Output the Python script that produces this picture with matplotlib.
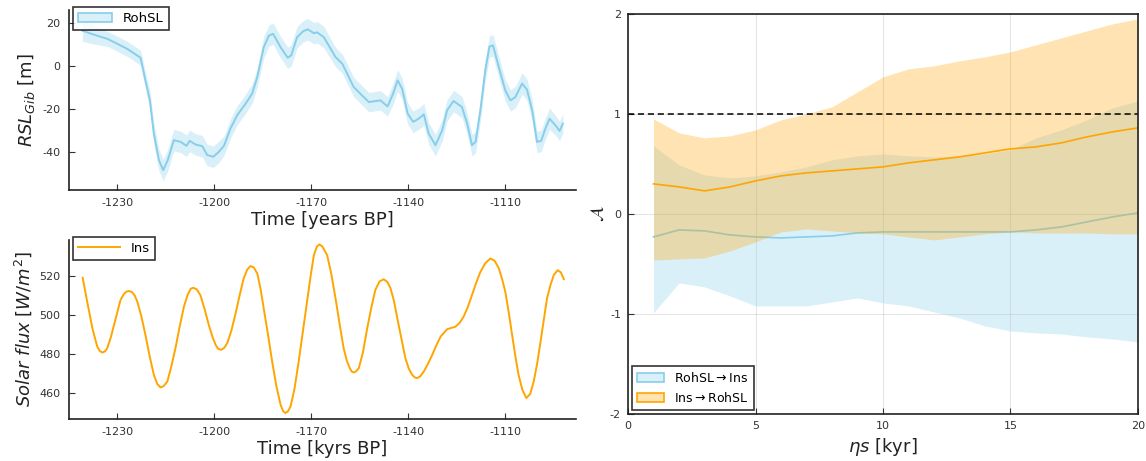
import numpy as np
import matplotlib
matplotlib.use("Agg")
import matplotlib.pyplot as plt
from matplotlib.patches import Patch
from matplotlib.lines import Line2D

plt.rcParams["axes.unicode_minus"] = False
plt.rcParams["font.family"] = ["DejaVu Sans"]

# relative sea level at Gibraltar (years BP, metres, half-width of band)
rsl_time = [-1240.8, -1238.0, -1235.5, -1233.1, -1230.0, -1226.9, -1222.8, -1221.3,
            -1219.9, -1218.7, -1217.1, -1215.8, -1214.4, -1212.5, -1210.4, -1208.6,
            -1207.6, -1205.8, -1203.7, -1202.2, -1200.3, -1198.6, -1197.0, -1195.0,
            -1192.9, -1190.3, -1188.3, -1186.7, -1184.7, -1183.1, -1181.8, -1179.5,
            -1177.3, -1176.2, -1174.4, -1172.5, -1171.1, -1169.2, -1168.2, -1166.1,
            -1162.5, -1160.4, -1156.9, -1154.3, -1152.2, -1148.6, -1146.4, -1144.7,
            -1143.3, -1141.9, -1140.2, -1138.5, -1136.8, -1135.2, -1133.7, -1131.6,
            -1129.5, -1128.0, -1126.0, -1123.4, -1121.8, -1120.3, -1119.2, -1117.7,
            -1116.2, -1114.9, -1113.8, -1112.0, -1110.0, -1108.4, -1106.9, -1104.8,
            -1103.3, -1101.7, -1100.2, -1098.9, -1097.6, -1096.3, -1094.5, -1093.2,
            -1092.2]
rsl_mean = [16.5, 15.0, 13.8, 12.7, 10.4, 8.0, 3.9, -6.6,
            -15.9, -31.3, -43.7, -48.3, -43.7, -34.4, -35.2, -37.0,
            -34.7, -36.4, -37.2, -41.3, -42.1, -39.8, -37.0, -29.0,
            -22.8, -17.4, -12.8, -5.1, 8.8, 14.2, 15.0, 8.8,
            3.9, 5.0, 13.4, 16.2, 17.1, 15.3, 15.7, 13.4,
            4.2, 1.1, -9.7, -13.6, -16.7, -15.9, -18.7, -12.8,
            -6.6, -10.5, -22.0, -25.9, -24.4, -22.4, -31.3, -36.7,
            -29.8, -20.5, -16.2, -19.0, -26.7, -36.7, -35.2, -20.5,
            -2.0, 9.1, 9.6, -0.5, -11.3, -15.9, -14.4, -8.1,
            -10.9, -20.5, -35.2, -34.7, -29.0, -24.4, -27.5, -30.1,
            -26.7]
rsl_err = [5.0, 4.5, 4.0, 3.5, 3.5, 3.5, 3.5, 4.0,
           4.5, 5.0, 5.0, 5.0, 5.0, 5.0, 5.0, 5.0,
           5.0, 5.0, 5.0, 5.0, 5.0, 5.0, 4.5, 4.5,
           4.5, 4.5, 4.5, 4.5, 5.0, 5.0, 5.0, 5.0,
           5.0, 5.0, 5.0, 5.0, 5.0, 5.0, 5.0, 5.0,
           4.5, 4.5, 4.5, 4.5, 4.5, 4.5, 4.5, 5.0,
           5.0, 5.0, 5.0, 5.0, 5.0, 5.0, 5.0, 5.0,
           5.0, 5.0, 5.0, 5.0, 5.0, 5.0, 5.0, 5.0,
           5.0, 5.0, 5.0, 5.0, 5.0, 5.0, 5.0, 5.0,
           5.0, 5.0, 5.0, 5.0, 5.0, 5.0, 4.5, 4.5,
           4.5]

# insolation (years BP, W/m^2)
ins_time = [-1240.7, -1239.3, -1237.7, -1236.2, -1235.4, -1234.6, -1233.8, -1233.1,
            -1232.0, -1231.0, -1229.0, -1228.0, -1227.2, -1226.4, -1225.5, -1224.6,
            -1223.8, -1222.5, -1221.3, -1220.0, -1218.7, -1217.6, -1216.6, -1215.6,
            -1214.5, -1213.3, -1212.0, -1210.7, -1209.4, -1208.2, -1207.3, -1206.5,
            -1205.4, -1204.3, -1203.0, -1201.7, -1200.6, -1199.6, -1198.8, -1197.9,
            -1197.0, -1196.0, -1194.7, -1193.4, -1192.1, -1190.9, -1189.8, -1188.8,
            -1187.8, -1186.7, -1185.7, -1184.7, -1183.4, -1182.1, -1180.8, -1179.5,
            -1178.7, -1178.0, -1177.2, -1176.4, -1175.2, -1173.9, -1172.6, -1171.3,
            -1170.2, -1169.2, -1168.3, -1167.5, -1166.6, -1165.1, -1163.8, -1162.5,
            -1161.2, -1160.0, -1159.0, -1158.1, -1157.5, -1156.9, -1156.2, -1155.3,
            -1154.0, -1152.7, -1151.4, -1150.2, -1148.9, -1147.6, -1146.5, -1145.5,
            -1144.4, -1143.4, -1142.1, -1140.9, -1139.8, -1138.8, -1138.0, -1137.3,
            -1136.3, -1135.2, -1133.9, -1132.6, -1131.3, -1130.0, -1128.0, -1125.4,
            -1124.1, -1122.9, -1121.6, -1120.3, -1119.0, -1117.7, -1116.2, -1114.6,
            -1113.3, -1112.0, -1111.0, -1110.0, -1108.9, -1107.9, -1106.9, -1105.9,
            -1104.7, -1103.5, -1102.3, -1101.2, -1100.1, -1099.1, -1098.1, -1097.1,
            -1096.0, -1095.0, -1093.8, -1092.8, -1091.9]
ins_flux = [519.1, 506.8, 493.2, 483.8, 481.5, 480.7, 481.3, 483.0,
            488.5, 494.9, 507.7, 510.6, 511.9, 512.3, 511.8, 510.0,
            506.8, 499.0, 489.8, 479.0, 469.3, 464.5, 462.8, 463.6,
            465.9, 473.5, 483.0, 494.0, 504.2, 510.5, 513.4, 514.0,
            513.1, 510.2, 503.0, 494.9, 489.0, 484.7, 482.6, 482.1,
            483.0, 485.5, 492.0, 500.9, 510.5, 518.8, 523.3, 525.1,
            524.4, 521.3, 513.5, 503.4, 490.0, 476.1, 463.5, 454.0,
            450.6, 449.7, 450.6, 453.1, 462.0, 476.1, 491.5, 506.8,
            520.0, 530.7, 535.0, 536.2, 535.2, 530.7, 521.0, 508.5,
            495.0, 483.0, 476.5, 472.7, 471.0, 470.5, 471.0, 472.7,
            481.0, 493.2, 504.0, 512.8, 517.2, 518.3, 517.0, 513.7,
            507.0, 498.3, 487.5, 477.8, 472.3, 469.3, 468.0, 467.6,
            468.5, 471.0, 475.0, 479.5, 484.5, 488.9, 492.7, 494.0,
            496.0, 499.1, 504.0, 510.2, 516.5, 522.1, 526.5, 529.0,
            527.8, 523.9, 518.5, 511.9, 501.0, 489.8, 479.0, 469.3,
            461.5, 457.4, 459.5, 465.9, 475.5, 486.3, 497.5, 508.5,
            515.5, 520.5, 523.0, 521.8, 518.3]

# coupling strength vs. window length
eta = [1, 2, 3, 4, 5, 6, 7, 8, 9, 10, 11, 12, 13, 14, 15, 16, 17, 18, 19, 20]
rsl_ins_mean = [-0.23, -0.16, -0.17, -0.21, -0.23, -0.24, -0.23, -0.22, -0.19, -0.18,
                -0.18, -0.18, -0.18, -0.18, -0.18, -0.16, -0.13, -0.08, -0.03, 0.01]
rsl_ins_hi = [0.68, 0.49, 0.39, 0.36, 0.38, 0.42, 0.47, 0.54, 0.58, 0.60,
              0.58, 0.57, 0.58, 0.60, 0.64, 0.76, 0.84, 0.94, 1.06, 1.13]
rsl_ins_lo = [-0.99, -0.69, -0.73, -0.82, -0.92, -0.92, -0.92, -0.88, -0.84, -0.89,
              -0.92, -0.98, -1.04, -1.12, -1.17, -1.19, -1.20, -1.23, -1.25, -1.28]
ins_rsl_mean = [0.30, 0.27, 0.23, 0.27, 0.33, 0.38, 0.41, 0.43, 0.45, 0.47,
                0.51, 0.54, 0.57, 0.61, 0.65, 0.67, 0.71, 0.77, 0.82, 0.86]
ins_rsl_hi = [0.95, 0.81, 0.76, 0.78, 0.84, 0.94, 1.00, 1.07, 1.22, 1.37,
              1.45, 1.48, 1.53, 1.57, 1.62, 1.69, 1.76, 1.83, 1.90, 1.95]
ins_rsl_lo = [-0.46, -0.45, -0.44, -0.37, -0.28, -0.18, -0.15, -0.17, -0.19, -0.20,
              -0.23, -0.26, -0.23, -0.20, -0.18, -0.19, -0.19, -0.19, -0.20, -0.20]

blue = "#87CEEB"
orange = "#FFA500"
tick_col = "#333333"

fig = plt.figure(figsize=(11.46, 4.61), dpi=100)
ax1 = fig.add_axes([0.060, 0.588, 0.443, 0.390])
ax2 = fig.add_axes([0.060, 0.091, 0.443, 0.389])
ax3 = fig.add_axes([0.548, 0.102, 0.445, 0.868])

for ax in (ax1, ax2):
    ax.spines["top"].set_visible(False)
    ax.spines["right"].set_visible(False)
    for s in ("left", "bottom"):
        ax.spines[s].set_linewidth(1.2)
        ax.spines[s].set_color("#222222")
    ax.tick_params(direction="in", length=4, labelsize=8, colors=tick_col, pad=6)
    ax.set_xlim(-1245, -1088)
    ax.set_xticks([-1230, -1200, -1170, -1140, -1110])

# sea level panel
rm = np.array(rsl_mean)
re = np.array(rsl_err)
ax1.fill_between(rsl_time, rm - re, rm + re, color=blue, alpha=0.3, linewidth=0)
ax1.plot(rsl_time, rm, color=blue, linewidth=1.4)
ax1.set_ylim(-57.5, 26)
ax1.set_yticks([-40, -20, 0, 20])
ax1.set_xlabel("Time [years BP]", fontsize=13, color="#222222", labelpad=2)
ax1.set_ylabel(r"$RSL_{Gib}$ [m]", fontsize=13, color="#222222")
h1 = Patch(facecolor=(0.53, 0.81, 0.92, 0.3), edgecolor=blue, linewidth=1.2)
leg = ax1.legend([h1], ["RohSL"], loc="upper left", fontsize=9.5, fancybox=False,
                 edgecolor="black", borderaxespad=0.3, handlelength=2.6,
                 bbox_to_anchor=(0.0, 1.04))
leg.get_frame().set_linewidth(1.2)

# insolation panel
ax2.plot(ins_time, ins_flux, color=orange, linewidth=1.4)
ax2.set_ylim(446.6, 538.6)
ax2.set_yticks([460, 480, 500, 520])
ax2.set_xlabel("Time [kyrs BP]", fontsize=13, color="#222222", labelpad=2)
ax2.set_ylabel(r"$Solar\ flux\ [W/m^2]$", fontsize=13, color="#222222")
h2 = Line2D([], [], color=orange, linewidth=1.4)
leg = ax2.legend([h2], ["Ins"], loc="upper left", fontsize=9.5, fancybox=False,
                 edgecolor="black", borderaxespad=0.3, handlelength=3.2,
                 bbox_to_anchor=(0.0, 1.04))
leg.get_frame().set_linewidth(1.2)

# coupling panel: each band is laid over the previous series
ax3.fill_between(eta, rsl_ins_lo, rsl_ins_hi, color=blue, alpha=0.3, linewidth=0, zorder=2)
ax3.plot(eta, rsl_ins_mean, color=blue, linewidth=1.2, zorder=2.1)
ax3.fill_between(eta, ins_rsl_lo, ins_rsl_hi, color=orange, alpha=0.3, linewidth=0, zorder=2.2)
ax3.plot(eta, ins_rsl_mean, color=orange, linewidth=1.2, zorder=2.3)
ax3.axhline(1, color="black", linestyle="--", linewidth=1.1, dashes=(4, 2.5), zorder=2.4)
ax3.set_xlim(0, 20)
ax3.set_ylim(-2, 2)
ax3.set_xticks([0, 5, 10, 15, 20])
ax3.set_yticks([-2, -1, 0, 1, 2])
ax3.grid(True, color="black", alpha=0.1, linewidth=0.8)
ax3.set_axisbelow(True)
for s in ax3.spines.values():
    s.set_linewidth(1.2)
    s.set_color("#222222")
ax3.tick_params(direction="in", length=4, labelsize=8, colors=tick_col, pad=5)
ax3.set_xlabel(r"$\eta s$ [kyr]", fontsize=13, color="#222222")
ax3.set_ylabel(r"$\mathcal{A}$", fontsize=13, color="#222222", labelpad=2)
p1 = Patch(facecolor=(0.53, 0.81, 0.92, 0.3), edgecolor=blue, linewidth=1.2)
p2 = Patch(facecolor=(1.0, 0.65, 0.0, 0.3), edgecolor=orange, linewidth=1.2)
leg = ax3.legend([p1, p2], ["RohSL$\\rightarrow$Ins", "Ins$\\rightarrow$RohSL"],
                 loc="lower left", fontsize=9, fancybox=False, edgecolor="black",
                 borderaxespad=0.3, handlelength=2.2)
leg.get_frame().set_linewidth(1.2)
leg.set_zorder(5)

fig.savefig("out.png", dpi=100)
